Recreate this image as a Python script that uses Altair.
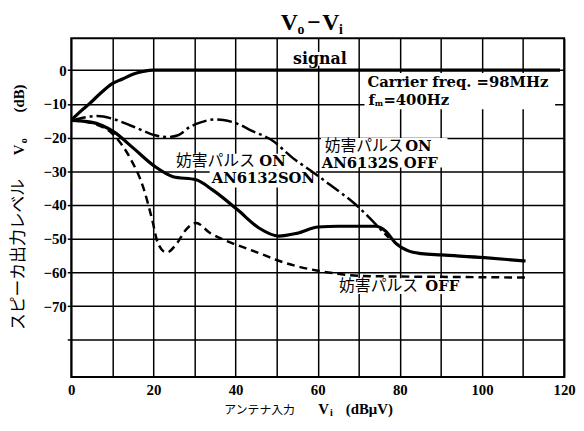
import altair as alt
import pandas as pd

# ---------------- data ----------------
x_signal = [0, 2, 4.4, 7, 10, 12.5, 15, 17.5, 20, 30, 50, 70, 90, 110, 119]
y_signal = [-14.8, -12.5, -10, -7, -4, -2.6, -1.2, -0.4, 0, 0, 0, 0, 0, 0, 0]

x_on_son = [0, 4.8, 10.4, 15.2, 20.4, 24.8, 30.4, 34.4, 40.5, 45.7, 50.5, 54.9,
            60.1, 65, 70, 74.1, 76.5, 78.9, 82.1, 85.3, 90.1, 100.6, 110.6]
y_on_son = [-14.9, -15.4, -18.3, -23.2, -28.6, -31.6, -32.5, -35.5, -41.4, -46.8,
            -49.2, -48.4, -46.5, -46.3, -46.3, -46.3, -47.7, -51.2, -53.6, -54.4,
            -54.8, -55.6, -56.6]

x_on_soff = [0, 6.4, 10, 14.4, 17.2, 20.4, 23.6, 26, 28.8, 31.5, 34.8, 37, 40.5,
             44, 48.5, 54.5, 58, 63, 69.3, 75.7, 77.3]
y_on_soff = [-14.9, -13.6, -14.4, -16.4, -17.8, -19.3, -19.8, -19.3, -16.9, -15.5,
             -14.6, -14.8, -15.9, -18, -20.5, -26.6, -29.5, -34, -39.9, -47.7, -49.7]

x_off = [0, 5.6, 10.4, 14.4, 17.6, 19.6, 21.2, 23.2, 25.6, 28, 30.4, 33.7, 36.9,
         40.5, 46.5, 50, 54.5, 60.1, 65, 70.1, 80, 90, 100, 110.6]
y_off = [-14.9, -15.9, -19.3, -26.2, -35, -43.8, -51.6, -54.1, -51.6, -47.2, -45.3,
         -48.2, -50.2, -51.9, -54.6, -56.3, -58, -59.5, -60.4, -61, -61.2, -61.3,
         -61.4, -61.5]

x_ticks = list(range(0, 121, 10))
y_ticks = list(range(-80, 1, 10))

# annotation labels (data coordinates)
latin_text = ["ON", "AN6132S OFF", "ON", "AN6132SON", "OFF"]
latin_x = [81.3, 61.0, 45.8, 34.2, 86.2]
latin_y = [-22.6, -27.6, -27.0, -31.9, -63.9]

kana_text = ["妨害パルス", "妨害パルス", "妨害パルス"]
kana_x = [61.7, 25.5, 65.2]
kana_y = [-22.6, -27.0, -63.9]

signal_text = ["signal"]
signal_x = [54.0]
signal_y = [3.3]

note_text = ["Carrier freq. =98MHz", "f", "=400Hz"]
note_x = [72.1, 72.4, 76.0]
note_y = [-3.4, -8.8, -8.8]

# white boxes behind the labels (break the grid like the reference)
box_x = [53.4, 71.4, 60.8, 25.0, 33.7, 64.5]
box_x2 = [69.3, 117.8, 91.6, 53.6, 59.6, 96.4]
box_y = [5.4, -0.8, -20.1, -24.8, -29.5, -61.7]
box_y2 = [1.3, -11.6, -28.9, -29.5, -34.8, -66.4]

# ---------------- chart ----------------
XS = alt.Scale(domain=[0, 120], nice=False, zero=False)
YS = alt.Scale(domain=[-91, 9.5], nice=False, zero=False)

x_axis = alt.Axis(values=x_ticks, title=None, grid=True, domain=False,
                  tickSize=0, labelPadding=6, labelOverlap=False, labelFlush=False,
                  labelExpr="datum.value % 20 == 0 ? datum.label : ''",
                  labelFont="Liberation Serif", labelFontWeight="bold",
                  labelFontSize=15, labelColor="black",
                  gridColor="black", gridWidth=1.5, gridOpacity=1)
y_axis = alt.Axis(values=y_ticks, title=None, grid=True, domain=False,
                  tickSize=4, tickColor="black", tickWidth=1.5, labelPadding=1,
                  labelOverlap=False, labelFlush=False,
                  labelExpr="datum.value == 0 ? '0' : (datum.value < -75 ? '' : '\u2212' + abs(datum.value))",
                  labelFont="Liberation Serif", labelFontWeight="bold",
                  labelFontSize=15, labelColor="black",
                  gridColor="black", gridWidth=1.5, gridOpacity=1)

X = alt.X("x:Q", scale=XS, axis=x_axis)
Y = alt.Y("y:Q", scale=YS, axis=y_axis)

boxes = alt.Chart(pd.DataFrame({"x": box_x, "x2": box_x2, "y": box_y, "y2": box_y2})
                  ).mark_rect(color="white").encode(x=X, x2="x2:Q", y=Y, y2="y2:Q")


def line(xs, ys, width, dash=None):
    kw = dict(color="black", strokeWidth=width, interpolate="monotone", clip=True)
    if dash:
        kw["strokeDash"] = dash
    return alt.Chart(pd.DataFrame({"x": xs, "y": ys})).mark_line(**kw).encode(x=X, y=Y)


l_signal = line(x_signal, y_signal, 3.2)
l_on_son = line(x_on_son, y_on_son, 3.2)
l_on_soff = line(x_on_soff, y_on_soff, 2.5, [15, 4, 3, 4])
l_off = line(x_off, y_off, 2.5, [8, 5])


def dtext(xs, ys, ts, **kw):
    base = dict(align="left", baseline="middle", color="black")
    base.update(kw)
    return alt.Chart(pd.DataFrame({"x": xs, "y": ys, "t": ts})).mark_text(**base).encode(
        x=X, y=Y, text="t:N")


latin = dtext(latin_x, latin_y, latin_text, font="DejaVu Serif", fontWeight="bold", fontSize=15)
kana = dtext(kana_x, kana_y, kana_text, font="Noto Sans CJK JP", fontSize=16)
sig = dtext(signal_x, signal_y, signal_text, font="DejaVu Serif", fontWeight="bold", fontSize=16)
notes = dtext(note_x, note_y, note_text, font="DejaVu Serif", fontWeight="bold", fontSize=15)
sub_m = dtext([73.9], [-9.9], ["m"], font="DejaVu Serif", fontWeight="bold", fontSize=8)

one = pd.DataFrame({"a": [0]})


def ptext(t, px, py, **kw):
    base = dict(color="black", align="left")
    base.update(kw)
    return alt.Chart(one).mark_text(text=t, **base).encode(x=alt.value(px), y=alt.value(py))


SER = "Liberation Serif"
title_parts = [
    ptext("V", 212, -8, font=SER, fontWeight="bold", fontSize=24, baseline="alphabetic"),
    ptext("o", 229, -4, font=SER, fontWeight="bold", fontSize=14, baseline="alphabetic"),
    ptext("\u2212", 239, -8, font=SER, fontWeight="bold", fontSize=24, baseline="alphabetic"),
    ptext("V", 254, -8, font=SER, fontWeight="bold", fontSize=24, baseline="alphabetic"),
    ptext("i", 271, -4, font=SER, fontWeight="bold", fontSize=14, baseline="alphabetic"),
]
xtitle_parts = [
    ptext("アンテナ入力", 155, 376, font="Noto Sans CJK JP", fontSize=12, baseline="middle"),
    ptext("V", 250, 380, font=SER, fontWeight="bold", fontSize=15, baseline="alphabetic"),
    ptext("i", 262, 383, font=SER, fontWeight="bold", fontSize=10, baseline="alphabetic"),
    ptext("(dBμV)", 278, 380, font=SER, fontWeight="bold", fontSize=15, baseline="alphabetic"),
]
ytitle_parts = [
    ptext("スピーカ出力レベル", -53, 219, font="Noto Sans CJK JP", fontSize=17,
          baseline="middle", align="center", angle=270),
    ptext("V", -53, 113, font=SER, fontWeight="bold", fontSize=15, baseline="middle",
          align="center", angle=270),
    ptext("o", -48, 104, font=SER, fontWeight="bold", fontSize=10, baseline="middle",
          align="center", angle=270),
    ptext("(dB)", -53, 61, font=SER, fontWeight="bold", fontSize=15, baseline="middle",
          align="center", angle=270),
]

chart = alt.layer(
    boxes, l_off, l_on_soff, l_on_son, l_signal, latin, kana, sig, notes, sub_m,
    *title_parts, *xtitle_parts, *ytitle_parts
).properties(
    width=499, height=343,
    padding={"left": 64, "top": 28, "right": 12, "bottom": 40},
    autosize=alt.AutoSizeParams(type="none"),
    background="white",
).configure_view(stroke="black", strokeWidth=2)

chart.save("out.html", embed_options={"renderer": "svg", "actions": False})
